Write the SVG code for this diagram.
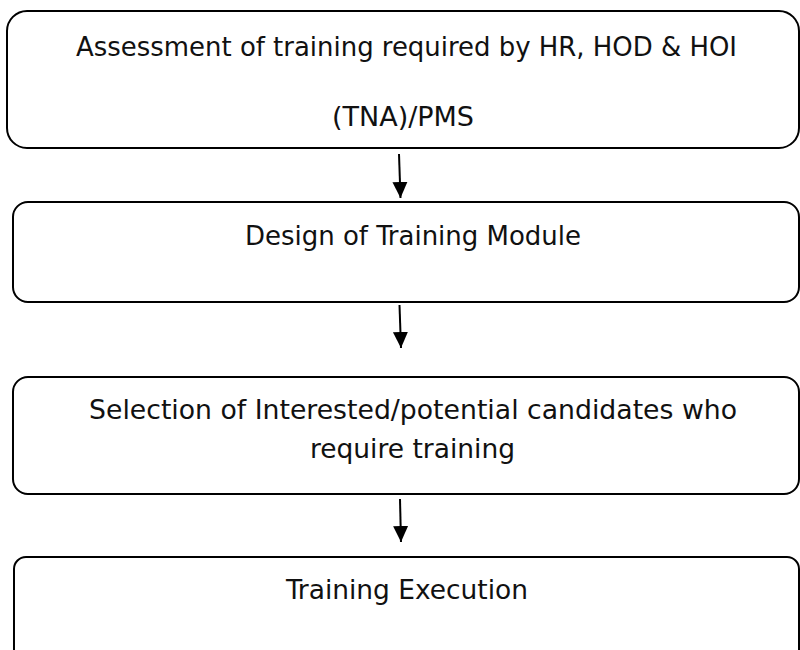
<svg xmlns="http://www.w3.org/2000/svg" width="800" height="650" viewBox="0 0 800 650">
<style>
.box{fill:#fff;stroke:#000;stroke-width:2}
.lbl{font-family:"DejaVu Sans Condensed","DejaVu Sans","Liberation Sans",sans-serif;font-size:26.5px;fill:#111;text-anchor:middle}
.conn{stroke:#000;stroke-width:2;fill:none;marker-end:url(#ah)}
</style>
<defs>
<marker id="ah" viewBox="0 0 16 16" refX="16" refY="8" markerWidth="16" markerHeight="16" markerUnits="userSpaceOnUse" orient="auto">
<path d="M0,0.5 L16,8 L0,15.5 Z" fill="#000"/>
</marker>
</defs>
<rect width="800" height="650" fill="#fff"/>
<g id="connectors">
<line class="conn" x1="399" y1="154" x2="400.5" y2="198"/>
<line class="conn" x1="399.5" y1="305" x2="401" y2="348"/>
<line class="conn" x1="400" y1="499" x2="401" y2="542"/>
</g>
<g id="n1">
<rect class="box" x="7" y="11" width="792" height="137" rx="20" ry="20"/>
<text class="lbl" x="406.5" y="56" textLength="661" lengthAdjust="spacingAndGlyphs">Assessment of training required by HR, HOD &amp; HOI</text>
<text class="lbl" x="403" y="126" textLength="142" lengthAdjust="spacingAndGlyphs">(TNA)/PMS</text>
</g>
<g id="n2">
<rect class="box" x="13" y="202" width="786" height="100" rx="15" ry="15"/>
<text class="lbl" x="413" y="245" textLength="336" lengthAdjust="spacingAndGlyphs">Design of Training Module</text>
</g>
<g id="n3">
<rect class="box" x="13" y="377" width="786" height="117" rx="15" ry="15"/>
<text class="lbl" x="413" y="419" textLength="648" lengthAdjust="spacingAndGlyphs">Selection of Interested/potential candidates who</text>
<text class="lbl" x="412.5" y="458" textLength="205" lengthAdjust="spacingAndGlyphs">require training</text>
</g>
<g id="n4">
<rect class="box" x="14" y="557" width="785" height="110" rx="12" ry="12"/>
<text class="lbl" x="407" y="599" textLength="242" lengthAdjust="spacingAndGlyphs">Training Execution</text>
</g>
</svg>
